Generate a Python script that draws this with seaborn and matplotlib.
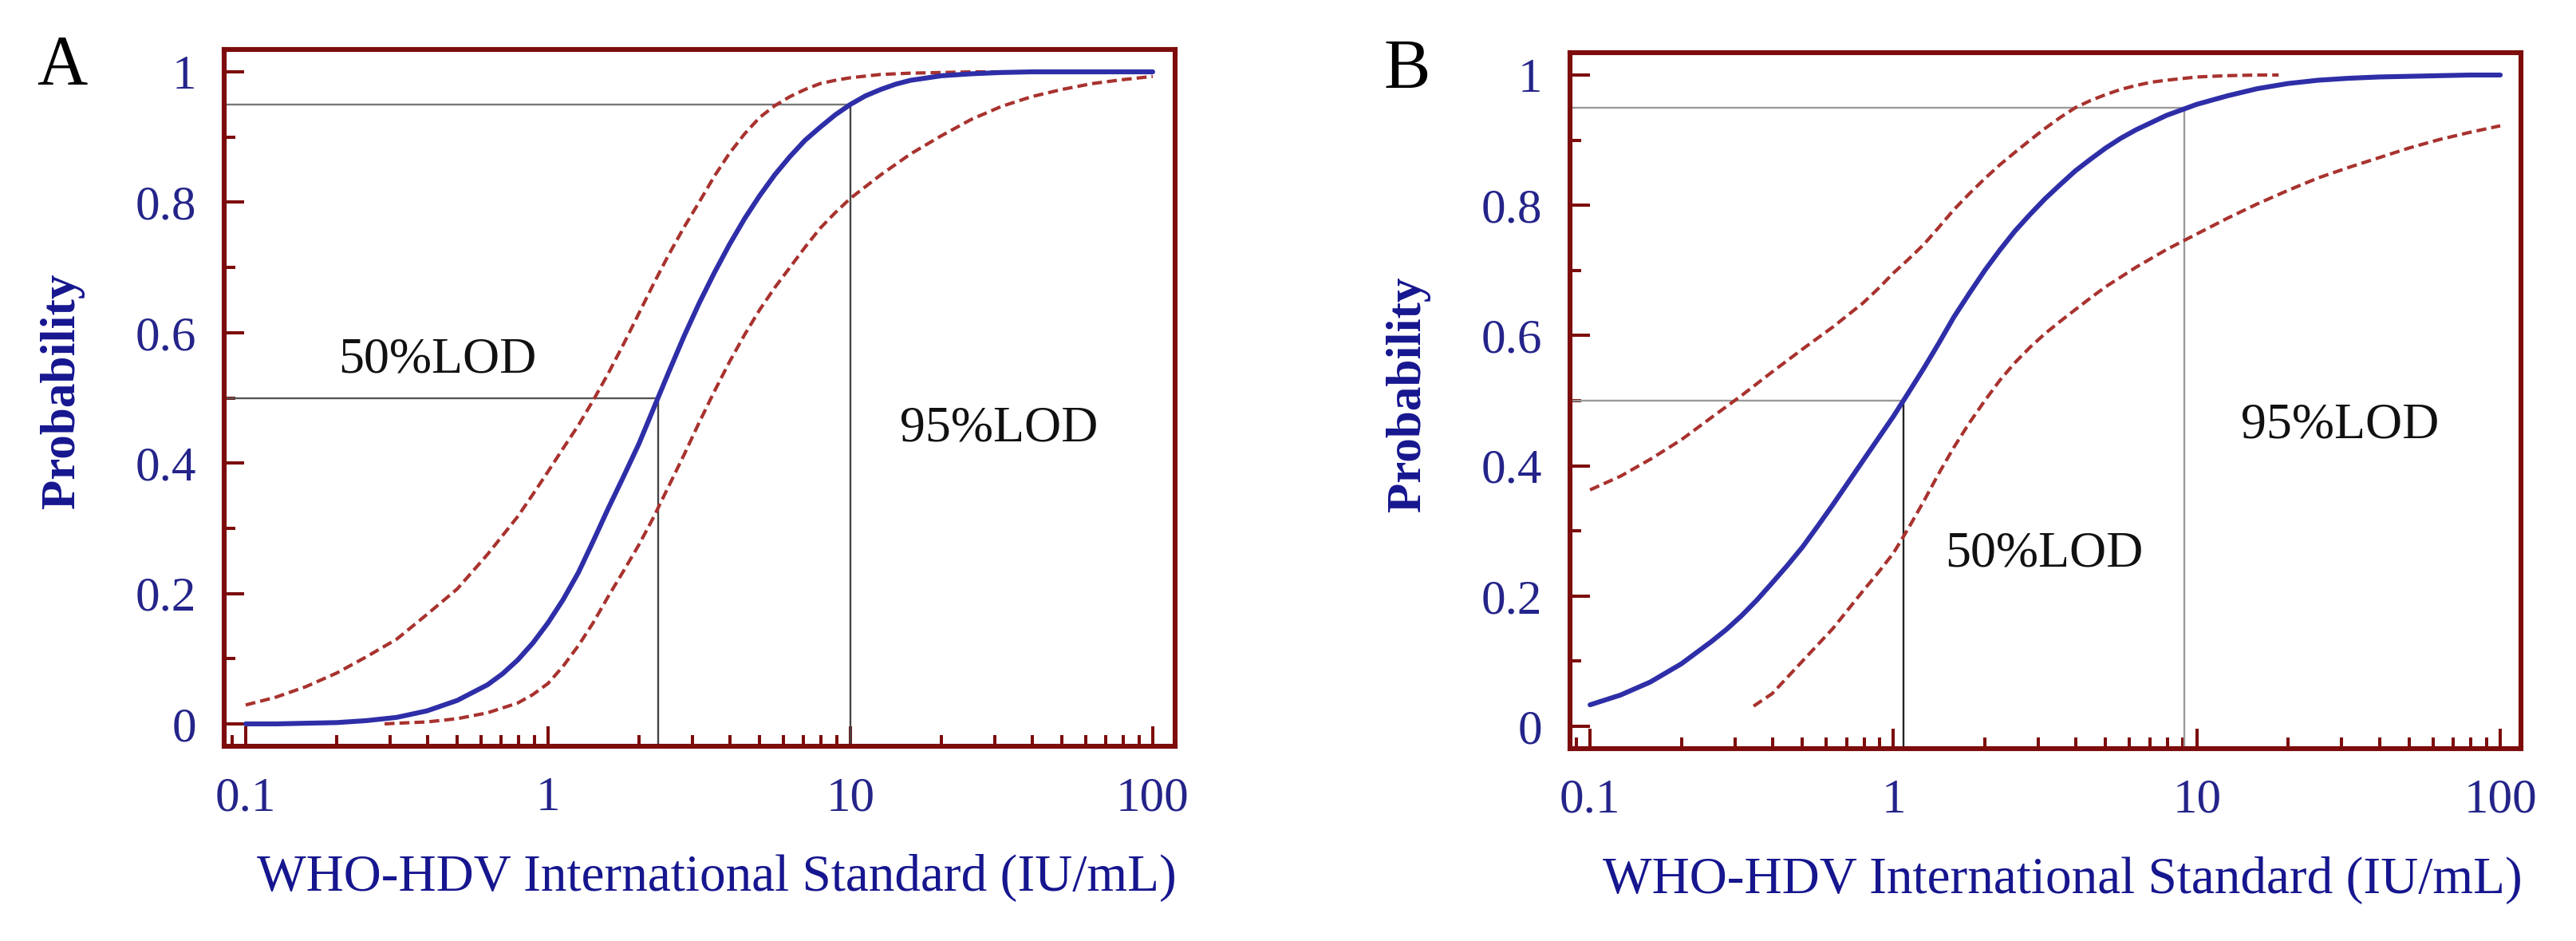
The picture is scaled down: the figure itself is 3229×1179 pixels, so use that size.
import numpy as np
import pandas as pd
import matplotlib
matplotlib.use("Agg")
import matplotlib.pyplot as plt
import seaborn as sns
from matplotlib.ticker import FixedLocator, NullFormatter, LogLocator

# ---------------- data ----------------
X_GRID = [0.1, 0.126, 0.158, 0.2, 0.251, 0.316, 0.398, 0.501, 0.631, 0.794,
          1.0, 1.26, 1.58, 2.0, 2.51, 3.16, 3.98, 5.01, 6.31, 7.94,
          10.0, 12.6, 15.8, 20.0, 25.1, 31.6, 39.8, 50.1, 63.1, 79.4, 100.0]
# extra reading positions in the steep parts of the curves
X_MID = [0.282, 0.355, 0.447, 0.562, 0.708, 0.891, 1.12, 1.41, 1.78, 2.24,
         2.82, 3.55, 4.47, 5.62, 7.08, 8.91, 11.2, 14.1]

# Panel A
a_fit_x = X_GRID + X_MID[4:]
a_fit_y = [0.000, 0.000, 0.001, 0.002, 0.005, 0.010, 0.020, 0.036, 0.060, 0.098,
           0.155, 0.232, 0.330, 0.430, 0.540, 0.645, 0.735, 0.810, 0.870, 0.915,
           0.950, 0.973, 0.987, 0.994, 0.997, 0.999, 1.000, 1.000, 1.000, 1.000, 1.000,
           0.077, 0.124, 0.190, 0.280, 0.380, 0.485, 0.595, 0.692, 0.775, 0.842,
           0.895, 0.934, 0.963, 0.981]
a_upper_x = X_GRID[:26] + X_MID[5:16]
a_upper_y = [0.029, 0.041, 0.057, 0.078, 0.103, 0.130, 0.168, 0.207, 0.260, 0.318,
             0.387, 0.458, 0.537, 0.630, 0.720, 0.800, 0.875, 0.930, 0.962, 0.982,
             0.991, 0.996, 0.998, 0.999, 1.000, 1.000,
             0.352, 0.422, 0.496, 0.583, 0.676, 0.762, 0.840, 0.905, 0.948, 0.973,
             0.987]
a_lower_x = [0.288] + X_GRID[5:] + X_MID[5:16]
a_lower_y = [0.000, 0.001, 0.003, 0.008, 0.017, 0.032, 0.062, 0.120, 0.195, 0.275,
             0.365, 0.462, 0.555, 0.635, 0.700, 0.760, 0.806, 0.842, 0.874, 0.902,
             0.927, 0.947, 0.962, 0.973, 0.982, 0.988, 0.993,
             0.045, 0.088, 0.155, 0.235, 0.318, 0.413, 0.510, 0.597, 0.669, 0.731,
             0.784]
a_lod_x = [2.31, 10.0]
a_lod_p = [0.5, 0.95]

# Panel B
b_fit_x = X_GRID + X_MID[:14]
b_fit_y = [0.033, 0.048, 0.068, 0.096, 0.130, 0.170, 0.220, 0.275, 0.340, 0.408,
           0.476, 0.550, 0.628, 0.700, 0.760, 0.810, 0.853, 0.888, 0.916, 0.938,
           0.955, 0.968, 0.979, 0.987, 0.992, 0.995, 0.997, 0.998, 0.999, 1.000, 1.000,
           0.149, 0.194, 0.247, 0.307, 0.374, 0.442, 0.512, 0.588, 0.665, 0.731,
           0.786, 0.832, 0.871, 0.903]
b_upper_x = X_GRID[:23] + [18.6] + X_MID[5:15]
b_upper_y = [0.363, 0.384, 0.410, 0.440, 0.474, 0.508, 0.544, 0.579, 0.613, 0.650,
             0.696, 0.740, 0.793, 0.841, 0.881, 0.918, 0.950, 0.970, 0.984, 0.992,
             0.997, 0.999, 1.000, 1.000,
             0.672, 0.717, 0.766, 0.818, 0.862, 0.900, 0.935, 0.961, 0.978, 0.989]
b_lower_x = [0.346] + X_GRID[6:] + X_MID[5:13]
b_lower_y = [0.031, 0.050, 0.100, 0.150, 0.208, 0.266, 0.346, 0.428, 0.500, 0.558,
             0.603, 0.640, 0.675, 0.705, 0.732, 0.756, 0.780, 0.802, 0.823, 0.842,
             0.858, 0.873, 0.888, 0.901, 0.912, 0.922,
             0.236, 0.304, 0.388, 0.466, 0.531, 0.582, 0.622, 0.658]
b_lod_x = [1.08, 9.1]
b_lod_p = [0.5, 0.95]

X_TICKS = [0.1, 1, 10, 100]
X_TICK_LABELS = ["0.1", "1", "10", "100"]
Y_TICKS = [0, 0.2, 0.4, 0.6, 0.8, 1.0]
Y_TICK_LABELS = ["0", "0.2", "0.4", "0.6", "0.8", "1"]
XLABEL = "WHO-HDV International Standard (IU/mL)"
YLABEL = "Probability"

# ---------------- style ----------------
sns.set_style("white")
plt.rcParams["font.family"] = ["Liberation Serif", "DejaVu Serif"]

SPINE = "#7d0c0c"
TICKLAB = "#24248a"
LABEL = "#16168f"
BLUE = "#2e2ea8"
RED = "#a8322e"

fig = plt.figure(figsize=(32.30, 11.79), dpi=100)

def panel(rect, xlim, fit, upper, lower, lod_x, lod_p, texts, letter, letter_xy,
          hcol, vcols):
    ax = fig.add_axes(rect)
    ax.set_xscale("log")
    ax.set_xlim(*xlim)
    ax.set_ylim(-0.0343, 1.0343)

    # reference lines
    for xv, pv, vc, hc in zip(lod_x, lod_p, vcols, hcol):
        ax.hlines(pv, xlim[0], xv, color=hc, lw=1.7, zorder=1)
        ax.vlines(xv, -0.0343, pv, color=vc, lw=1.7, zorder=1)

    df_u = pd.DataFrame({"x": upper[0], "y": upper[1]})
    df_l = pd.DataFrame({"x": lower[0], "y": lower[1]})
    df_f = pd.DataFrame({"x": fit[0], "y": fit[1]})
    for d in (df_u, df_l):
        sns.lineplot(data=d, x="x", y="y", ax=ax, color=RED, lw=3.0,
                     linestyle=(0, (3.0, 1.5)), estimator=None, zorder=2)
    sns.lineplot(data=df_f, x="x", y="y", ax=ax, color=BLUE, lw=4.4,
                 estimator=None, zorder=3, solid_joinstyle="round")

    for s in ax.spines.values():
        s.set_color(SPINE)
        s.set_linewidth(4.4)
        s.set_visible(True)

    ax.xaxis.set_major_locator(FixedLocator(X_TICKS))
    ax.set_xticklabels(X_TICK_LABELS)
    ax.xaxis.set_minor_locator(LogLocator(base=10, subs=np.arange(2, 10)))
    ax.xaxis.set_minor_formatter(NullFormatter())
    ax.set_yticks(Y_TICKS)
    ax.set_yticklabels(Y_TICK_LABELS)
    ax.yaxis.set_minor_locator(FixedLocator([0.1, 0.3, 0.5, 0.7, 0.9]))

    ax.tick_params(which="both", direction="in", color=SPINE, width=2.9,
                   top=False, right=False, bottom=True, left=True)
    ax.tick_params(which="major", length=18)
    ax.tick_params(which="minor", length=10)
    ax.tick_params(axis="x", which="major", pad=27, labelsize=44, labelcolor=TICKLAB)
    ax.tick_params(axis="y", which="major", pad=25, labelsize=44, labelcolor=TICKLAB)

    ax.set_xlabel(XLABEL, fontsize=47, color=LABEL)
    ax.xaxis.label.set_va("center")
    ax.xaxis.set_label_coords(0.518, -0.189)
    ax.set_ylabel(YLABEL, fontsize=44, color=LABEL, fontweight="bold")
    ax.yaxis.label.set_va("center")
    ax.yaxis.set_label_coords(-0.170, 0.51)

    for (tx, ty, s) in texts:
        ax.text(tx, ty, s, fontsize=46, color="#111111", ha="center", va="center")

    fig.text(letter_xy[0], letter_xy[1], letter, fontsize=63, color="black",
             ha="center", va="center")
    return ax

panel([281 / 3230, 1 - 935 / 1179, 1192 / 3230, 873 / 1179],
      (0.0849, 118.6),
      (a_fit_x, a_fit_y), (a_upper_x, a_upper_y), (a_lower_x, a_lower_y),
      a_lod_x, a_lod_p,
      [(0.43, 0.557, "50%LOD"), (31.0, 0.452, "95%LOD")],
      "A", (78 / 3230, 1 - 83 / 1179),
      hcol=["#555555", "#777777"], vcols=["#444444", "#444444"])

panel([1968 / 3230, 1 - 938 / 1179, 1192 / 3230, 872 / 1179],
      (0.0859, 117.0),
      (b_fit_x, b_fit_y), (b_upper_x, b_upper_y), (b_lower_x, b_lower_y),
      b_lod_x, b_lod_p,
      [(3.13, 0.264, "50%LOD"), (29.6, 0.462, "95%LOD")],
      "B", (1764 / 3230, 1 - 88 / 1179),
      hcol=["#9a9a9a", "#9a9a9a"], vcols=["#222222", "#9a9a9a"])

fig.savefig("out.png", dpi=100, facecolor="white")
